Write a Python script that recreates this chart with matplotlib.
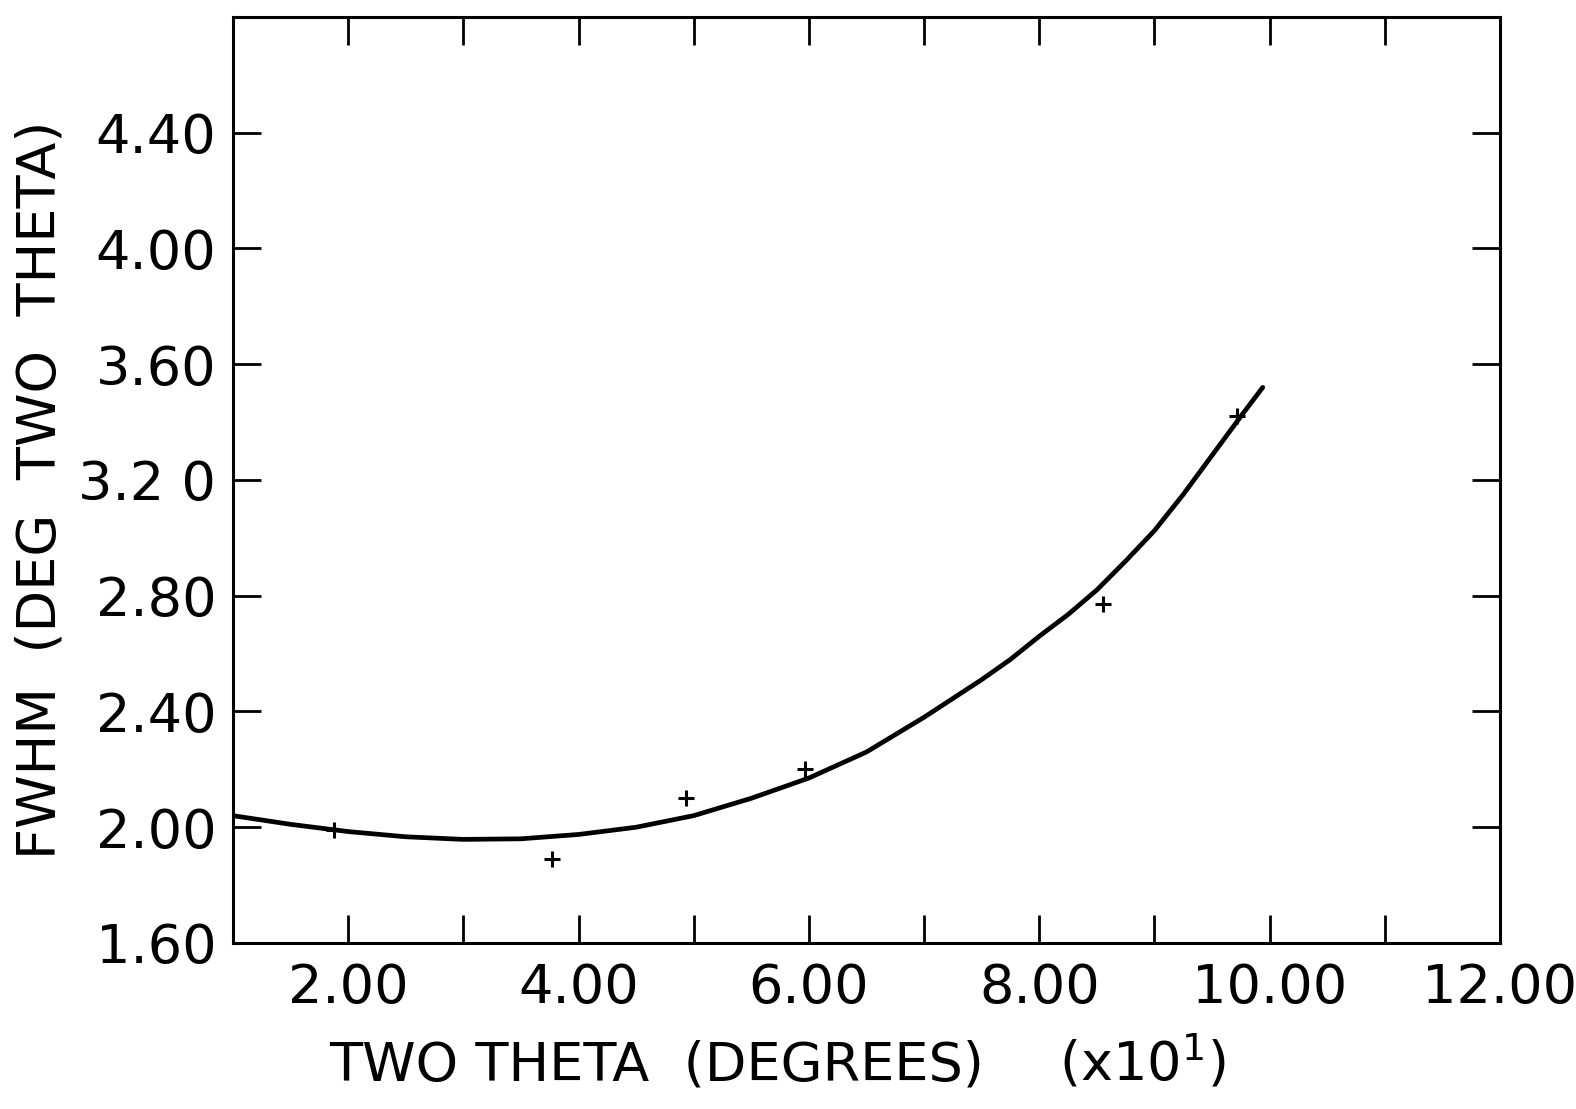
'''
FWHM of the diffraction peaks against two theta,
measured points with the smooth fitted curve through them.
'''

from matplotlib.backends.backend_agg import FigureCanvasAgg as FigureCanvas
from matplotlib.figure import Figure
from matplotlib.ticker import MultipleLocator, FixedLocator

# measured peak widths (two theta in units of 10 degrees)
two_theta = [1.88, 3.77, 4.93, 5.97, 8.55, 9.72]
fwhm = [1.99, 1.89, 2.10, 2.20, 2.77, 3.42]

# fitted curve, read along its length
fit_theta = [1.0, 1.5, 2.0, 2.5, 3.0, 3.5, 4.0, 4.5, 5.0, 5.5, 6.0,
             6.5, 7.0, 7.5, 7.75, 8.0, 8.25, 8.5, 8.75, 9.0, 9.25,
             9.5, 9.75, 9.94]
fit_fwhm = [2.04, 2.01, 1.985, 1.967, 1.958, 1.96, 1.975, 2.00, 2.04,
            2.10, 2.17, 2.26, 2.38, 2.51, 2.58, 2.66, 2.735, 2.82, 2.92,
            3.025, 3.15, 3.285, 3.42, 3.52]

x_ticks = [2.0, 4.0, 6.0, 8.0, 10.0, 12.0]
x_ticklabels = ['2.00', '4.00', '6.00', '8.00', '10.00', '12.00']
y_ticks = [1.6, 2.0, 2.4, 2.8, 3.2, 3.6, 4.0, 4.4]
y_ticklabels = ['1.60', '2.00', '2.40', '2.80', '3.2 0', '3.60', '4.00', '4.40']

fig = Figure(figsize=(15.76, 11.09), dpi=100)
FigureCanvas(fig)
fig.patch.set_facecolor('white')

ax = fig.add_axes([0.1478, 0.1497, 0.9518 - 0.1478, 0.9847 - 0.1497])

ax.plot(fit_theta, fit_fwhm, color='black', lw=3.4, solid_capstyle='round',
        solid_joinstyle='round')
ax.plot(two_theta, fwhm, ls='none', marker='+', color='black',
        markersize=11, markeredgewidth=2.2)

ax.set_xlim(1.0, 12.0)
ax.set_ylim(1.6, 4.8)

ax.xaxis.set_major_locator(FixedLocator(x_ticks))
ax.xaxis.set_minor_locator(MultipleLocator(1.0))
ax.yaxis.set_major_locator(FixedLocator(y_ticks))
ax.set_xticklabels(x_ticklabels)
ax.set_yticklabels(y_ticklabels)

ax.tick_params(which='both', direction='in', length=20, width=2.0,
               top=True, right=True, labelsize=39, color='black')
ax.tick_params(axis='x', pad=14)
ax.tick_params(axis='y', pad=12)

for side in ax.spines.values():
    side.set_linewidth(2.2)

# axis titles, hand placed like the lettering on the original sheet
fig.text(0.026, 0.558, 'FWHM  (DEG  TWO  THETA)', rotation=90, fontsize=39,
         ha='center', va='center')
fig.text(0.209, 0.026, 'TWO THETA  (DEGREES)', fontsize=39,
         ha='left', va='baseline')
fig.text(0.672, 0.026, r'(x10$^{\mathsf{1}}$)', fontsize=39,
         ha='left', va='baseline')

fig.savefig('out.png', dpi=100)
